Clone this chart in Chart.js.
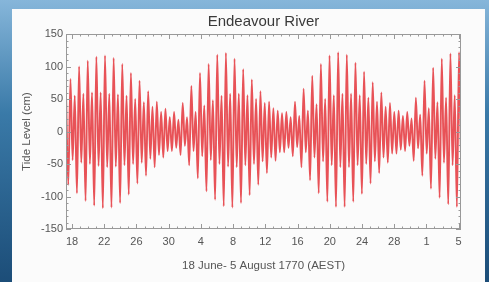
<!DOCTYPE html>
<html>
<head>
<meta charset="utf-8">
<title>Endeavour River tide</title>
<script src="https://cdn.jsdelivr.net/npm/chart.js@4.4.1/dist/chart.umd.min.js"></script>
<style>
  html, body { margin: 0; padding: 0; }
  body {
    width: 489px; height: 282px; overflow: hidden; position: relative;
    background: linear-gradient(180deg, #86b6da 0%, #3a7aa8 40%, #1c4d78 100%);
  }
  #card {
    position: absolute; left: 12px; top: 9px; width: 473px; height: 280px;
    background: #fbfbfb;
  }
  #tideChart { position: absolute; left: 0; top: 0; }
</style>
</head>
<body>
<div id="card"></div>
<canvas id="tideChart" width="489" height="282"></canvas>
<script>
(function() {
  'use strict';

  var titleText = 'Endeavour River';
  var yTitle = 'Tide Level (cm)';
  var xTitle = '18 June- 5 August 1770 (AEST)';

  // x axis in days from 18 June 1770 00:00
  var xTickDays = [0, 4, 8, 12, 16, 20, 24, 28, 32, 36, 40, 44, 48];
  var xTickLabels = ['18', '22', '26', '30', '4', '8', '12', '16', '20', '24', '28', '1', '5'];

  // successive high / low water levels (cm)
  // one row per lunar day: lower low, higher high, higher low, lower high
  var firstTideDay = -0.728;
  var tideStepDays = 0.268;
  var tideLevels = [50,
    -82, 81, -44, 55,
    -95, 100, -48, 58,
    -107, 109, -50, 60,
    -114, 115, -53, 60,
    -118, 117, -55, 58,
    -117, 113, -54, 57,
    -110, 104, -52, 55,
    -97, 90, -50, 50,
    -80, 78, -48, 45,
    -68, 62, -42, 38,
    -55, 46, -36, 30,
    -40, 35, -30, 22,
    -30, 30, -25, 18,
    -36, 44, -22, 22,
    -52, 70, -30, 30,
    -72, 90, -38, 40,
    -92, 104, -44, 48,
    -105, 118, -50, 55,
    -115, 121, -54, 58,
    -117, 112, -55, 58,
    -110, 96, -52, 56,
    -98, 80, -50, 50,
    -82, 62, -46, 44,
    -64, 46, -40, 36,
    -45, 32, -32, 28,
    -32, 30, -25, 22,
    -38, 46, -24, 24,
    -55, 66, -32, 32,
    -75, 86, -40, 42,
    -95, 104, -46, 50,
    -108, 117, -52, 56,
    -116, 122, -55, 58,
    -116, 118, -55, 58,
    -108, 106, -52, 56,
    -96, 92, -50, 52,
    -80, 76, -46, 46,
    -64, 60, -40, 38,
    -48, 44, -34, 30,
    -34, 32, -28, 24,
    -30, 30, -22, 20,
    -45, 52, -26, 26,
    -68, 78, -34, 36,
    -88, 98, -42, 45,
    -102, 112, -48, 52,
    -112, 120, -52, 56,
    -116, 122, -54, 58
  ];

  var points = tideLevels.map(function(v, i) {
    return { x: firstTideDay + i * tideStepDays, y: v };
  });

  var textColor = '#555555';
  var fontFamily = "'Liberation Sans', Arial, sans-serif";

  // Box frame, inward tick marks and the centred title
  var boxPlugin = {
    id: 'boxTicks',
    afterDatasetsDraw: function(chart) {
      var ctx = chart.ctx;
      var a = chart.chartArea;
      var xs = chart.scales.x;
      var ys = chart.scales.y;
      var d, v, px, py, len;

      ctx.save();
      ctx.strokeStyle = '#999999';
      ctx.lineWidth = 1;
      ctx.strokeRect(a.left + 0.5, a.top + 0.5, a.right - a.left - 1, a.bottom - a.top - 1);

      ctx.beginPath();
      for (d = 0; d <= 48; d++) {
        px = Math.round(xs.getPixelForValue(d)) + 0.5;
        len = d % 4 === 0 ? 5 : 2.5;
        ctx.moveTo(px, a.bottom); ctx.lineTo(px, a.bottom - len);
        ctx.moveTo(px, a.top); ctx.lineTo(px, a.top + len);
      }
      for (v = -150; v <= 150; v += 10) {
        py = Math.round(ys.getPixelForValue(v)) + 0.5;
        len = v % 50 === 0 ? 5 : 2.5;
        ctx.moveTo(a.left, py); ctx.lineTo(a.left + len, py);
        ctx.moveTo(a.right, py); ctx.lineTo(a.right - len, py);
      }
      ctx.stroke();

      ctx.fillStyle = '#3a3a3a';
      ctx.font = '15px ' + fontFamily;
      ctx.textAlign = 'center';
      ctx.textBaseline = 'middle';
      ctx.fillText(titleText, (a.left + a.right) / 2, 22);
      ctx.restore();
    }
  };

  new Chart(document.getElementById('tideChart').getContext('2d'), {
    type: 'line',
    data: {
      datasets: [{
        data: points,
        borderColor: 'rgba(228, 52, 58, 0.85)',
        borderWidth: 1.9,
        pointRadius: 0,
        fill: false,
        cubicInterpolationMode: 'monotone'
      }]
    },
    options: {
      responsive: false,
      animation: false,
      events: [],
      layout: { padding: { left: 0, right: 28, top: 34, bottom: 0 } },
      plugins: {
        legend: { display: false },
        tooltip: { enabled: false }
      },
      scales: {
        x: {
          type: 'linear',
          min: -0.745,
          max: 48.29,
          grid: { display: false, drawTicks: false },
          border: { display: false },
          afterBuildTicks: function(scale) {
            scale.ticks = xTickDays.map(function(d) { return { value: d }; });
          },
          afterFit: function(scale) { scale.height = 53; },
          ticks: {
            autoSkip: false,
            maxRotation: 0,
            padding: 6,
            color: textColor,
            font: { family: fontFamily, size: 11 },
            callback: function(value) {
              var i = xTickDays.indexOf(value);
              return i >= 0 ? xTickLabels[i] : '';
            }
          },
          title: {
            display: true,
            text: xTitle,
            color: textColor,
            font: { family: fontFamily, size: 11.5 },
            padding: { top: 0, bottom: 9 }
          }
        },
        y: {
          min: -150,
          max: 150,
          grid: { display: false, drawTicks: false },
          border: { display: false },
          afterFit: function(scale) { scale.width = 66; },
          ticks: {
            stepSize: 50,
            padding: 3,
            color: textColor,
            font: { family: fontFamily, size: 11 }
          },
          title: {
            display: true,
            text: yTitle,
            color: textColor,
            font: { family: fontFamily, size: 11.5 },
            padding: { top: 20, bottom: 0 }
          }
        }
      }
    },
    plugins: [boxPlugin]
  });
})();
</script>
</body>
</html>
